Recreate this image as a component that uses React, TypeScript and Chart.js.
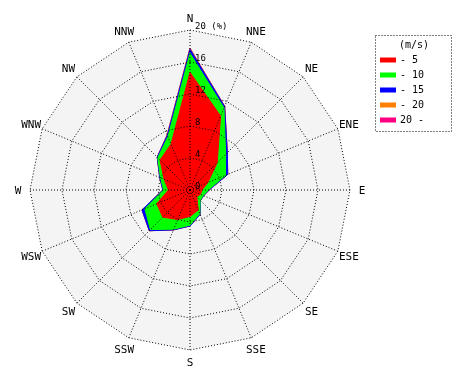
import React, { useEffect, useRef } from 'react';
import { Chart, registerables } from 'chart.js';

Chart.register(...registerables);

// 16 compass directions (clockwise from north)
const directions = ['N', 'NNE', 'NE', 'ENE', 'E', 'ESE', 'SE', 'SSE', 'S', 'SSW', 'SW', 'WSW', 'W', 'WNW', 'NW', 'NNW'];

// Frequency (%) of each wind-speed class per direction
const speedTo5 = [14.7, 10.0, 4.8, 2.4, 1.5, 1.4, 1.2, 2.7, 3.3, 4.0, 4.8, 4.5, 2.7, 3.5, 5.3, 6.2];
const speedTo10 = [2.4, 1.1, 1.5, 2.4, 0.8, 0.4, 0.6, 0.5, 1.1, 1.3, 2.2, 1.6, 0.6, 0.5, 0.4, 1.0];
const speedTo15 = [0.5, 0.2, 0.3, 0.3, 0.1, 0.05, 0.05, 0.1, 0.1, 0.1, 0.2, 0.4, 0.1, 0.1, 0.1, 0.2];
const speedTo20 = [0.1, 0.03, 0, 0, 0, 0, 0, 0, 0, 0, 0, 0, 0, 0, 0, 0.05];
const speedOver20 = [0.05, 0, 0, 0, 0, 0, 0, 0, 0, 0, 0, 0, 0, 0, 0, 0.02];

const speedClasses = ['- 5', '- 10', '- 15', '- 20', '20 -'];
const classColors = ['#ff0000', '#00ff00', '#0000ff', '#ff8000', '#ff0080'];
const legendTitle = '(m/s)';

const radialTicks = [0, 4, 8, 12, 16, 20];
const radialTickLabels = ['0', '4', '8', '12', '16', '20 (%)'];

const MONO = '"DejaVu Sans Mono", "Liberation Mono", monospace';

export default function App() {
  const canvasRef = useRef<HTMLCanvasElement | null>(null);

  useEffect(() => {
    const canvas = canvasRef.current;
    if (!canvas) return;

    const series = [speedTo5, speedTo10, speedTo15, speedTo20, speedOver20];
    const cumulative: number[][] = [];
    series.forEach((s, k) => {
      cumulative.push(s.map((v, i) => (k === 0 ? v : cumulative[k - 1][i] + v)));
    });

    const bgPlugin = {
      id: 'roseBackground',
      beforeDatasetsDraw(chart: any) {
        const r = chart.scales.r;
        const ctx = chart.ctx;
        ctx.save();
        ctx.beginPath();
        directions.forEach((_, i) => {
          const p = r.getPointPosition(i, r.drawingArea);
          if (i === 0) ctx.moveTo(p.x, p.y);
          else ctx.lineTo(p.x, p.y);
        });
        ctx.closePath();
        ctx.fillStyle = '#f4f4f4';
        ctx.fill();
        ctx.restore();
      },
    };

    const labelsPlugin = {
      id: 'roseLabels',
      afterDraw(chart: any) {
        const r = chart.scales.r;
        const ctx = chart.ctx;
        ctx.save();
        ctx.fillStyle = '#000';
        // direction labels
        ctx.font = `11px ${MONO}`;
        ctx.textAlign = 'center';
        ctx.textBaseline = 'middle';
        directions.forEach((d, i) => {
          const p = r.getPointPosition(i, r.drawingArea + 12);
          ctx.fillText(d, p.x, p.y + 1);
        });
        // radial tick labels
        ctx.font = `9px ${MONO}`;
        ctx.textAlign = 'left';
        radialTicks.forEach((v, i) => {
          const y = r.yCenter - r.getDistanceFromCenterForValue(v) - 3;
          ctx.fillText(radialTickLabels[i], r.xCenter + 5, y);
        });
        // legend
        const lx = 375;
        const ly = 35;
        const lw = 76;
        const lh = 96;
        ctx.strokeStyle = '#000';
        ctx.lineWidth = 1;
        ctx.setLineDash([1, 2]);
        ctx.strokeRect(lx + 0.5, ly + 0.5, lw, lh);
        ctx.setLineDash([]);
        ctx.font = `10px ${MONO}`;
        ctx.textAlign = 'center';
        ctx.fillText(legendTitle, lx + 39, ly + 10);
        ctx.textAlign = 'left';
        speedClasses.forEach((c, i) => {
          const cy = ly + 25 + i * 15;
          ctx.fillStyle = classColors[i];
          ctx.fillRect(lx + 5, cy - 2.5, 16, 5);
          ctx.fillStyle = '#000';
          ctx.fillText(c, lx + 25, cy);
        });
        ctx.restore();
      },
    };

    const chart = new Chart(canvas, {
      type: 'radar',
      data: {
        labels: directions,
        datasets: cumulative.map((vals, k) => ({
          label: speedClasses[k],
          data: vals,
          backgroundColor: classColors[k],
          borderColor: classColors[k],
          borderWidth: 1,
          pointRadius: 0,
          fill: 'origin',
          tension: 0,
        })),
      },
      options: {
        responsive: false,
        animation: false,
        devicePixelRatio: 1,
        layout: { padding: { left: 30, top: 30, right: 120, bottom: 30 } },
        plugins: {
          legend: { display: false },
          tooltip: { enabled: false },
        },
        scales: {
          r: {
            min: 0,
            max: 20,
            ticks: { display: false, stepSize: 4, z: 1 },
            pointLabels: { display: false },
            grid: { color: '#000', lineWidth: 1, z: 1 },
            border: { dash: [1, 2] },
            angleLines: { color: '#000', lineWidth: 1, borderDash: [1, 2] },
          },
        },
      },
      plugins: [bgPlugin, labelsPlugin],
    } as any);

    return () => chart.destroy();
  }, []);

  return (
    <div style={{ position: 'absolute', left: 0, top: 0, width: 470, height: 380, background: '#fff' }}>
      <canvas ref={canvasRef} width={470} height={380} />
    </div>
  );
}
